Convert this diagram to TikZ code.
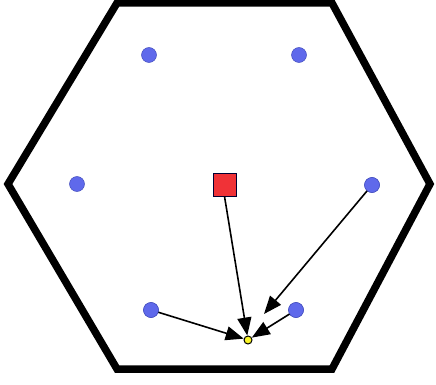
\documentclass[tikz,border=0pt]{standalone}
\usetikzlibrary{arrows.meta}
\definecolor{dotblue}{RGB}{95,105,235}
\definecolor{dotedge}{RGB}{70,80,190}
\definecolor{sqred}{RGB}{240,50,55}
\definecolor{yel}{RGB}{250,245,40}
\begin{document}
\begin{tikzpicture}[x=1pt,y=-1pt,
  hexline/.style={line width=7.5pt,line join=miter},
  bsdot/.style={circle,fill=dotblue,draw=dotedge,line width=0.5pt,minimum size=15pt,inner sep=0pt},
  ussq/.style={rectangle,fill=sqred,draw=black!80!blue,line width=0.7pt,minimum size=23pt,inner sep=0pt},
  ydot/.style={circle,fill=yel,draw=black,line width=1pt,minimum size=8pt,inner sep=0pt},
  sig/.style={line width=1.6pt,-{Triangle[length=18pt,width=14pt]}}]
\useasboundingbox (0,0) rectangle (436,385);
\draw[hexline] (117,3) -- (332,3) -- (430,184) -- (332,369) -- (117,369) -- (8,184) -- cycle;
\node[bsdot] (b1) at (149,55) {};
\node[bsdot] (b2) at (299,55) {};
\node[bsdot] (b3) at (77,184) {};
\node[bsdot] (b4) at (372,185) {};
\node[bsdot] (b5) at (151,310) {};
\node[bsdot] (b6) at (296,310) {};
\node[ussq] (s) at (224.5,184.5) {};
\node[ydot] (y) at (248,340) {};
\coordinate (t4) at (264,314);
\draw[sig] (s.south) -- (y);
\draw[sig] (b5.center) -- (y);
\draw[sig] (b6.center) -- (y);
\draw[sig] (b4.center) -- (t4);
\node[bsdot] at (b5) {};
\node[bsdot] at (b6) {};
\node[bsdot] at (b4) {};
\end{tikzpicture}
\end{document}
